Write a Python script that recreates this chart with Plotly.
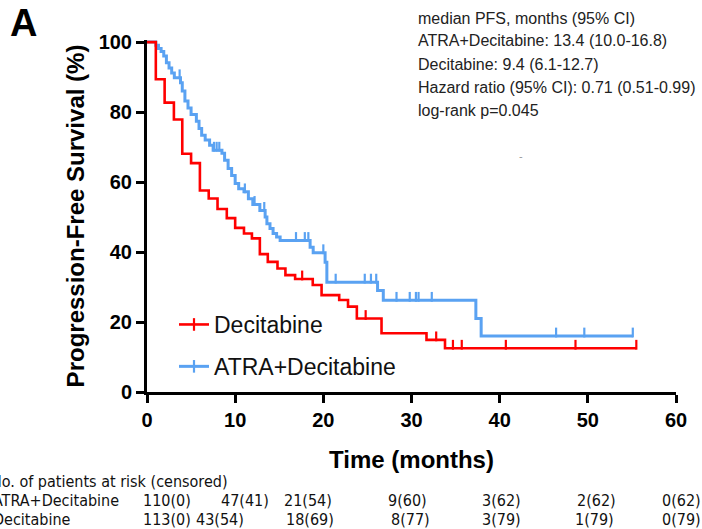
import plotly.graph_objects as go

# ---------------- data ----------------
dec_event_t = [1.0, 2.0, 3.05, 4.0, 5.0, 6.0, 7.0, 8.0, 9.05, 10.0, 11.0, 11.9, 12.8, 13.7,
               14.8, 15.7, 16.8, 18.8, 19.8, 21.8, 22.8, 23.8, 26.6, 31.7, 33.8]
dec_event_s = [89.4, 82.7, 77.9, 68.1, 65.4, 57.6, 55.3, 52.3, 49.7, 46.9, 45.3, 43.9, 39.4, 37.2,
               35.3, 33.4, 32.3, 30.6, 27.7, 26.3, 24.4, 21.0, 16.8, 14.9, 12.5]
dec_end = 55.5
dec_censor_t = [17.6, 24.8, 32.8, 34.7, 35.7, 40.7, 48.6, 55.5]

atra_event_t = [1.0, 1.3, 1.6, 1.9, 2.2, 2.5, 2.8, 3.1, 3.8, 4.0, 4.3, 4.65, 5.0, 5.6, 5.9, 6.2,
                6.6, 7.1, 7.5, 8.5, 8.8, 9.2, 9.6, 10.0, 10.4, 11.0, 11.5, 12.0, 12.8, 13.4,
                13.6, 13.95, 14.3, 14.7, 15.1, 18.5, 18.85, 20.2, 20.4, 26.15, 26.8, 37.3, 37.9]
atra_event_s = [99.1, 98.2, 97.3, 96.0, 94.1, 92.6, 91.2, 89.8, 88.4, 86.0, 83.2, 81.2, 79.3, 77.4,
                75.3, 73.4, 72.0, 70.5, 69.1, 68.2, 66.2, 63.9, 61.9, 59.6, 58.1, 57.2, 55.2,
                53.6, 51.9, 50.0, 48.1, 46.7, 45.3, 44.3, 43.3, 41.4, 39.8, 37.1, 31.4, 29.0,
                26.2, 21.0, 16.0]
atra_end = 55.1
atra_censor_t = [3.7, 7.6, 7.9, 8.2, 11.1, 12.2, 13.3, 16.9, 17.9, 18.3, 20.0, 21.4, 24.7, 25.4,
                 26.0, 28.3, 29.8, 30.5, 30.8, 32.3, 46.4, 49.6, 55.1]

x_ticks = [0, 10, 20, 30, 40, 50, 60]
y_ticks = [0, 20, 40, 60, 80, 100]

stats_lines = ["median PFS, months (95% CI)",
               "ATRA+Decitabine: 13.4 (10.0-16.8)",
               "Decitabine: 9.4 (6.1-12.7)",
               "Hazard ratio (95% CI): 0.71 (0.51-0.99)",
               "log-rank p=0.045"]

risk_header = "No. of patients at risk (censored)"
risk_groups = ["ATRA+Decitabine", "Decitabine"]
risk_atra = ["110(0)", "47(41)", "21(54)", "9(60)", "3(62)", "2(62)", "0(62)"]
risk_dec = ["113(0)", "43(54)", "18(69)", "8(77)", "3(79)", "1(79)", "0(79)"]

RED = "#FF0000"
BLUE = "#5AA2F2"


def step_xy(ts, ss, end):
    xs = [0] + list(ts) + [end]
    ys = [100] + list(ss) + [ss[-1]]
    return xs, ys


def surv_at(t, ts, ss):
    s = 100
    for ti, si in zip(ts, ss):
        if ti <= t:
            s = si
    return s


# ---------------- layout geometry (pixels) ----------------
W, H = 702, 529
ML, MR, MT, MB = 147, 26, 40, 137
PW, PH = W - ML - MR, H - MT - MB


def px(x):
    return (x - ML) / PW


def py(y):
    return (H - MB - y) / PH


fig = go.Figure()

for name, ts, ss, end, ct, col, lw in [
    ("ATRA+Decitabine", atra_event_t, atra_event_s, atra_end, atra_censor_t, BLUE, 3),
    ("Decitabine", dec_event_t, dec_event_s, dec_end, dec_censor_t, RED, 2.6),
]:
    xs, ys = step_xy(ts, ss, end)
    fig.add_trace(go.Scatter(x=xs, y=ys, mode="lines", line=dict(color=col, width=lw, shape="hv"),
                             showlegend=False, hoverinfo="skip"))
    cy = [surv_at(t, ts, ss) + 1.0 for t in ct]
    fig.add_trace(go.Scatter(x=ct, y=cy, mode="markers", showlegend=False, hoverinfo="skip",
                             cliponaxis=False,
                             marker=dict(symbol="line-ns-open", size=7, color=col,
                                         line=dict(color=col, width=2.2))))

# legend entries
for i, (name, col, lw) in enumerate([("Decitabine", RED, 2.6), ("ATRA+Decitabine", BLUE, 3)]):
    fig.add_trace(go.Scatter(x=[None], y=[None], mode="lines+markers", name=name,
                             legendgroup="g%d" % i,
                             line=dict(color=col, width=lw),
                             marker=dict(symbol="line-ns-open", size=9, color=col,
                                         line=dict(color=col, width=2.2))))

font_family = "Liberation Sans, Arial, sans-serif"
narrow_family = "Liberation Sans Narrow, Arial Narrow, DejaVu Sans Condensed, Liberation Sans, sans-serif"

fig.update_layout(
    width=W, height=H,
    margin=dict(l=ML, r=MR, t=MT, b=MB),
    plot_bgcolor="white", paper_bgcolor="white",
    font=dict(family=font_family, color="black"),
    showlegend=True,
    legend=dict(x=px(174), y=py(303), xanchor="left", yanchor="top",
                font=dict(size=23, color="#111"), bgcolor="rgba(0,0,0,0)",
                tracegroupgap=9, itemwidth=30, traceorder="grouped"),
    xaxis=dict(range=[0, 60], tickvals=x_ticks, ticktext=[str(v) for v in x_ticks],
               showgrid=False, zeroline=False, showline=True, linecolor="black", linewidth=3,
               ticks="outside", ticklen=8, tickwidth=3, tickcolor="black",
               tickfont=dict(size=20, weight="bold", family=font_family),
               title=dict(text="Time (months)", font=dict(size=24, weight="bold", family=font_family),
                          standoff=22)),
    yaxis=dict(range=[0, 100.6], tickvals=y_ticks, ticktext=[str(v) for v in y_ticks],
               showgrid=False, zeroline=False, showline=True, linecolor="black", linewidth=3,
               ticks="outside", ticklen=8, tickwidth=3, tickcolor="black",
               tickfont=dict(size=20, weight="bold", family=font_family),
               title=dict(text="Progression-Free Survival (%)",
                          font=dict(size=24, weight="bold", family=font_family), standoff=8)),
)

ann = []
ann.append(dict(text="<b>A</b>", x=px(8), y=py(23), xref="paper", yref="paper", xanchor="left",
                yanchor="middle", showarrow=False, font=dict(size=38, color="black")))
for i, line in enumerate(stats_lines):
    ann.append(dict(text=line, x=px(416), y=py(18 + 23 * i), xref="paper", yref="paper",
                    xanchor="left", yanchor="middle", showarrow=False,
                    font=dict(size=16, color="#222")))
ann.append(dict(text="-", x=px(521), y=py(156), xref="paper", yref="paper", xanchor="center",
                yanchor="middle", showarrow=False, font=dict(size=11, color="#999")))

# risk table
TF = 16
ann.append(dict(text=risk_header, x=px(-11), y=py(481), xref="paper", yref="paper", xanchor="left",
                yanchor="middle", showarrow=False, font=dict(size=TF, color="#111", family=narrow_family)))
row_y = [500, 519]
label_x = [-9, -9]
col_left = [[141, 219, 282, 386, 480, 575, 660],
            [141, 194, 284, 389, 480, 573, 660]]
for r, (grp, vals) in enumerate(zip(risk_groups, [risk_atra, risk_dec])):
    ann.append(dict(text=grp, x=px(label_x[r]), y=py(row_y[r]), xref="paper", yref="paper",
                    xanchor="left", yanchor="middle", showarrow=False,
                    font=dict(size=TF, color="#111", family=narrow_family)))
    for j, v in enumerate(vals):
        ann.append(dict(text=v, x=px(col_left[r][j]), y=py(row_y[r]),
                        xref="paper", yref="paper", xanchor="left", yanchor="middle",
                        showarrow=False, font=dict(size=TF, color="#111", family=narrow_family)))
fig.update_layout(annotations=ann)

fig.write_html("out.html")
